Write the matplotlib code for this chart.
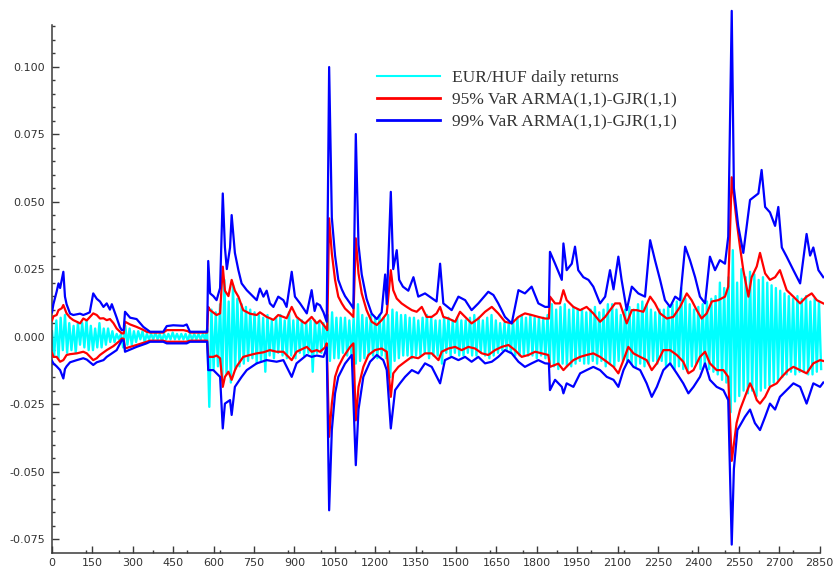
import numpy as np
import matplotlib
matplotlib.use("Agg")
import matplotlib.pyplot as plt
from matplotlib.ticker import MultipleLocator, FixedLocator, FormatStrFormatter
from matplotlib.lines import Line2D

# All series values are stored in units of 1e-3
SCALE = 1e-3

# EUR/HUF daily returns, sampled every RETURN_STEP observations
RETURN_STEP = 8
daily_returns = [
    2, -7, 6, -8, 7, -5, 8, -6, 5,
    -5, 4, -6, 5, -3, 5, -4, 6, -5, 4, -5, 3, -4, 5, -4, 3,
    -3, 3, -2, 2, -2, 1, -1, 1,
    -4, 4, -3, 3, -3,
    2, -2, 2, -1, 2, -2, 1,
    -1, 1, -1, 1.5, -1, 1, -1.5, 1, -1, 1, -1, 1.5, -1, 1, -1, 1, -1, 1, -1.5, 1,
    -1, 1, -1, 1, -1, 1, -1,
    3, -26,
    10, -12, 9, -11, 12, -16, 21, -14, 13, -17, 19, -12, 14, -11, 12, -10, 11, -9,
    10, -8, 9, -10, 8, -9, 7, -13,
    8, -7, 6, -8, 7, -6, 8, -7, 6, -8, 9, -7, 6, -8, 7, -6, 6, -7, 5,
    -6, 6, -13, 6, -6, 5, -6, 5, -5,
    8, -9, 9, -8, 7, -8, 7, -6, 7, -7, 6, -7, 7,
    -10, 12, -9, 8, -8, 7, -7, 8, -7, 7,
    -8, 8, -7, 7, -8, 8, -15, 10, -9, 9,
    -8, 8, -7, 8, -7, 7, -8, 7, -7, 6,
    -7, 7, -6, 8, -8, 7, -7, 6, -7, 6,
    -10, 7, -6, 7, -7, 6, -6, 7, -7, 6,
    -7, 6, -6, 7, -7, 8, -7, 7, -6, 6,
    -7, 7, -8, 8, -7, 6, -6, 5, -5, 5,
    -5, 5, -6, 6, -7, 7, -7, 8, -7, 7,
    -7, 8, -7, 7, -8, 7, -7, 7, -8, 8,
    -10, 12, -11, 10, -12, 11, -10, 12, -11, 10,
    -11, 11, -10, 10, -9, 10, -10, 9, -10, 10,
    -9, 11, -10, 9, -9, 10, -11, 12, -10, 12,
    -11, 10, -9, 8, -9, 10, -9, 11, -10, 10,
    -11, 12, -10, 13, -11, 12, -10, 10, -9, 9,
    -10, 10, -9, 10, -11, 11, -10, 12, -12, 13,
    -11, 18, -12, 14, -13, 12, -11, 10, -10, 11,
    -12, 12, -11, 13, -12, 14, -13, 15, -14, 20,
    -16, 18, -17, 22, -28, 32, -24, 20, -22, 25,
    -20, 22, -21, 24, -20, 23, -22, 21, -20, 22,
    -19, 20, -18, 19, -17, 18, -16, 17, -15, 16,
    -14, 15, -13, 14, -14, 15, -13, 14, -13, 15,
    -14, 13, -14, 14, -13, 13, -12,
]

# 95% VaR, upper band
var95_upper_days = [
    0, 5, 17, 24, 36, 42, 54, 67, 79, 92, 104, 116, 129, 153, 166, 178, 191, 203,
    215, 228, 240, 259, 266, 271, 290, 314, 339, 351, 364, 413, 426, 488, 505, 512,
    576, 580, 587, 611, 624, 634, 642, 655, 667, 679, 692, 710, 735, 760, 772, 797,
    809, 822, 840, 859, 871, 890, 908, 930, 940, 964, 983, 995, 1014, 1022, 1029,
    1039, 1051, 1063, 1076, 1088, 1107, 1119, 1128, 1138, 1150, 1168, 1187, 1206,
    1224, 1243, 1258, 1267, 1280, 1298, 1317, 1336, 1354, 1373, 1391, 1410, 1428,
    1441, 1453, 1472, 1497, 1515, 1534, 1558, 1583, 1608, 1633, 1657, 1682, 1707,
    1732, 1756, 1781, 1806, 1831, 1845, 1849, 1868, 1886, 1899, 1911, 1936, 1961,
    1985, 2010, 2035, 2054, 2072, 2091, 2109, 2134, 2153, 2171, 2196, 2221, 2239,
    2258, 2283, 2307, 2332, 2357, 2375, 2394, 2412, 2431, 2450, 2474, 2499, 2511,
    2524, 2542, 2555, 2567, 2586, 2598, 2617, 2629, 2648, 2666, 2685, 2703, 2728,
    2753, 2778, 2802, 2821, 2840, 2864,
]
var95_upper = [
    6.0, 7.5, 8.0, 9.8, 10.5, 11.7, 8.6, 7.0, 6.1, 5.5, 4.9, 6.7, 6.0, 8.6, 8.0, 6.7, 6.8, 6.1,
    6.5, 5.0, 3.0, 1.2, 1.2, 5.5, 4.5, 3.6, 2.5, 1.8, 1.5, 1.5, 2.4, 2.4, 2.0, 1.5,
    1.5, 11.0, 9.8, 8.0, 8.6, 25.9, 17.0, 15.0, 21.0, 17.0, 14.8, 9.8, 8.5, 8.0, 9.0, 7.3,
    6.8, 6.2, 8.0, 7.3, 6.8, 11.0, 7.3, 5.5, 4.9, 7.3, 4.9, 6.0, 3.6, 2.4, 43.8,
    30.8, 21.0, 14.8, 12.3, 10.4, 8.6, 7.3, 36.4, 23.4, 16.0, 9.8, 5.5, 4.3,
    6.1, 8.6, 24.6, 17.2, 14.1, 12.3, 11.0, 9.8, 9.2, 11.0, 7.3, 7.3, 8.6,
    11.0, 7.3, 6.7, 5.5, 9.2, 7.3, 4.9, 6.7, 9.2, 11.0, 8.6, 5.5, 4.9,
    7.3, 8.6, 8.0, 7.3, 6.7, 6.7, 14.8, 12.3, 12.3, 17.2, 13.5, 11.0, 9.8,
    11.0, 8.6, 5.5, 7.3, 9.8, 12.3, 12.3, 4.9, 9.8, 9.8, 9.2, 14.8, 12.3,
    8.6, 6.7, 7.3, 11.0, 16.0, 13.5, 9.8, 6.7, 8.6, 13.0, 13.5, 14.8, 18.5,
    59.0, 43.0, 33.0, 24.6, 14.8, 22.0, 26.0, 31.0, 23.4, 21.0, 22.0, 24.6, 17.2,
    14.8, 12.3, 14.8, 16.0, 13.5, 12.3,
]

# 95% VaR, lower band
var95_lower_days = [
    0, 5, 17, 30, 42, 54, 67, 92, 116, 129, 153, 166, 178, 203, 228, 252, 259, 266,
    271, 290, 314, 351, 364, 413, 426, 500, 512, 576, 580, 599, 611, 624, 634, 642,
    655, 667, 679, 686, 710, 735, 760, 785, 809, 834, 859, 890, 908, 946, 964, 983,
    995, 1014, 1020, 1029, 1039, 1051, 1063, 1082, 1107, 1119, 1128, 1138, 1156,
    1175, 1199, 1224, 1243, 1258, 1267, 1286, 1311, 1336, 1360, 1385, 1410, 1435,
    1447, 1472, 1497, 1521, 1546, 1571, 1596, 1620, 1645, 1670, 1695, 1719, 1744,
    1769, 1794, 1818, 1843, 1849, 1880, 1899, 1911, 1936, 1961, 1985, 2010, 2035,
    2060, 2085, 2103, 2122, 2140, 2159, 2184, 2208, 2227, 2246, 2270, 2295, 2320,
    2344, 2363, 2382, 2406, 2425, 2443, 2468, 2493, 2511, 2524, 2542, 2555, 2573,
    2592, 2604, 2617, 2629, 2648, 2666, 2691, 2710, 2734, 2753, 2778, 2802, 2827,
    2852, 2864,
]
var95_lower = [
    -6.0, -7.5, -7.5, -9.3, -8.7, -6.8, -6.5, -6.2, -5.6, -6.2, -8.7, -8.0, -6.8, -5.0, -3.5, -1.5, -0.7, -0.8,
    -4.4, -3.8, -3.1, -1.9, -1.5, -1.5, -1.9, -1.9, -1.5, -1.5, -7.5, -7.5, -7.0, -8.0, -18.6, -14.9,
    -13.0, -16.0, -12.5, -11.0, -7.5, -6.8, -6.2, -5.8, -5.0, -5.6, -5.6, -8.7, -5.6, -3.8, -5.6, -5.0,
    -5.6, -4.0, -2.5, -37.1, -24.8, -14.9, -11.2, -7.5, -3.8, -2.5, -31.0, -18.6, -11.2,
    -6.8, -5.0, -4.4, -5.6, -22.3, -13.6, -11.2, -9.3, -7.5, -8.0, -6.2, -6.2, -8.7,
    -5.6, -4.4, -3.8, -5.0, -3.8, -4.4, -6.2, -6.8, -5.0, -3.8, -3.1, -5.0, -7.5,
    -6.8, -5.6, -6.2, -6.8, -11.2, -10.0, -12.4, -11.1, -8.7, -7.5, -6.8, -6.2, -7.5,
    -9.3, -11.2, -13.6, -8.7, -3.8, -6.2, -7.5, -8.7, -12.4, -9.9, -5.0, -5.0, -6.8,
    -9.3, -13.6, -12.4, -7.5, -5.6, -9.9, -12.4, -12.4, -14.9, -46.0, -32.0, -27.0, -22.3,
    -17.3, -19.8, -23.5, -24.8, -22.3, -18.6, -17.3, -14.9, -12.4, -11.2, -12.4, -13.6, -9.9,
    -8.7, -9.0,
]

# 99% VaR, upper band
var99_upper_days = [
    0, 5, 17, 24, 30, 42, 48, 54, 67, 79, 104, 116, 129, 140, 153, 166, 178, 191,
    203, 215, 222, 240, 252, 259, 266, 271, 290, 314, 339, 364, 413, 426, 450, 488,
    500, 512, 576, 580, 587, 599, 611, 624, 634, 642, 649, 661, 667, 679, 692, 704,
    723, 735, 760, 772, 785, 797, 809, 822, 840, 859, 871, 890, 902, 921, 946, 964,
    975, 983, 995, 1008, 1020, 1029, 1039, 1051, 1063, 1076, 1088, 1107, 1119, 1128,
    1138, 1150, 1168, 1187, 1206, 1224, 1237, 1243, 1258, 1267, 1280, 1289, 1303,
    1323, 1342, 1360, 1385, 1428, 1441, 1453, 1484, 1509, 1534, 1558, 1583, 1620,
    1639, 1657, 1682, 1707, 1732, 1756, 1781, 1806, 1831, 1845, 1849, 1868, 1893,
    1899, 1911, 1930, 1942, 1954, 1973, 1992, 2010, 2035, 2054, 2072, 2085, 2103,
    2115, 2134, 2153, 2177, 2202, 2221, 2239, 2258, 2276, 2295, 2314, 2332, 2351,
    2369, 2388, 2406, 2425, 2443, 2462, 2480, 2499, 2511, 2524, 2532, 2548, 2567,
    2592, 2623, 2635, 2648, 2666, 2685, 2697, 2710, 2728, 2753, 2778, 2802, 2815,
    2827, 2846, 2864,
]
var99_upper = [
    9.0, 12.0, 16.6, 19.7, 18.0, 24.0, 14.8, 12.0, 8.5, 8.0, 8.5, 8.0, 8.5, 9.0, 16.0, 14.0, 13.0, 11.0,
    12.3, 10.0, 12.0, 7.0, 3.5, 2.4, 2.5, 9.2, 7.0, 6.5, 3.6, 1.8, 1.8, 3.9, 4.2, 4.0,
    4.5, 1.8, 1.8, 28.0, 16.0, 15.0, 13.5, 18.0, 53.0, 33.0, 25.0, 33.0, 45.0, 31.0, 24.6, 19.7,
    17.2, 16.0, 13.5, 17.8, 14.8, 17.0, 12.3, 11.0, 14.8, 13.5, 11.0, 24.0, 14.8, 12.3, 8.6, 17.2,
    9.5, 12.3, 11.6, 9.0, 5.5, 99.8, 44.0, 30.0, 21.0, 17.5, 15.0, 12.3, 10.5, 75.0,
    34.0, 23.0, 14.0, 8.5, 6.5, 9.0, 23.0, 12.0, 53.6, 25.0, 32.0, 21.0, 18.5,
    17.0, 22.0, 14.8, 16.0, 13.0, 27.0, 12.3, 9.8, 14.8, 13.5, 9.8, 12.3, 16.6,
    15.4, 12.3, 7.3, 4.9, 17.2, 16.0, 18.5, 12.3, 11.0, 11.0, 31.4, 27.0, 21.0,
    34.5, 24.6, 27.0, 33.3, 24.6, 22.0, 21.0, 18.5, 12.3, 14.8, 24.6, 17.5, 29.6,
    21.0, 9.8, 18.5, 16.0, 14.8, 35.7, 28.3, 21.0, 13.5, 11.0, 14.8, 13.5, 33.3,
    28.3, 22.0, 14.8, 12.3, 29.6, 24.6, 28.3, 27.0, 37.0, 120.6, 55.0, 41.0, 31.0,
    50.6, 53.0, 61.7, 48.0, 46.0, 41.0, 48.0, 33.0, 29.6, 24.6, 19.7, 38.0, 30.0,
    33.0, 24.6, 22.0,
]

# 99% VaR, lower band
var99_lower_days = [
    0, 5, 17, 30, 42, 48, 54, 67, 92, 116, 129, 153, 166, 191, 203, 240, 259, 266,
    271, 290, 314, 351, 364, 413, 426, 500, 512, 576, 580, 599, 624, 634, 642, 661,
    667, 679, 704, 723, 760, 797, 834, 859, 890, 908, 946, 964, 983, 1008, 1020,
    1029, 1039, 1051, 1063, 1088, 1113, 1128, 1138, 1156, 1181, 1206, 1230, 1243,
    1258, 1274, 1292, 1311, 1336, 1360, 1385, 1410, 1441, 1459, 1484, 1509, 1534,
    1558, 1583, 1608, 1633, 1657, 1682, 1707, 1732, 1756, 1781, 1806, 1831, 1845,
    1849, 1868, 1893, 1899, 1911, 1936, 1961, 1985, 2010, 2035, 2060, 2085, 2103,
    2122, 2140, 2159, 2184, 2208, 2227, 2246, 2270, 2295, 2320, 2344, 2363, 2382,
    2406, 2425, 2443, 2468, 2493, 2511, 2524, 2532, 2545, 2573, 2592, 2610, 2629,
    2648, 2666, 2685, 2703, 2728, 2753, 2778, 2802, 2827, 2852, 2864,
]
var99_lower = [
    -9.0, -9.9, -11.0, -12.4, -15.5, -12.0, -11.0, -9.5, -8.7, -8.0, -8.5, -10.5, -9.5, -8.7, -7.5, -5.0, -1.3, -1.5,
    -5.6, -4.8, -3.8, -2.5, -1.9, -1.9, -2.5, -2.5, -1.9, -1.9, -12.4, -12.4, -14.9, -34.0, -24.8, -23.5,
    -29.0, -18.6, -14.9, -12.4, -9.9, -8.7, -9.3, -8.7, -14.9, -9.9, -6.8, -7.5, -7.0, -7.5, -4.0,
    -64.3, -34.6, -21.0, -14.9, -10.0, -6.8, -47.6, -27.0, -14.9, -9.3, -6.8, -8.7, -12.4,
    -34.0, -19.8, -17.3, -14.9, -12.4, -13.6, -9.9, -11.2, -17.3, -8.7, -7.5, -8.7, -7.5,
    -9.3, -7.5, -9.9, -9.3, -7.5, -5.0, -6.2, -9.3, -11.2, -9.9, -8.7, -9.9, -10.0,
    -19.8, -16.0, -18.6, -21.0, -17.3, -18.6, -13.6, -12.4, -11.2, -12.4, -14.9, -16.0, -18.6,
    -12.4, -8.7, -11.2, -12.4, -17.3, -22.3, -18.6, -12.4, -9.9, -13.6, -17.3, -21.0, -18.6,
    -14.9, -9.9, -16.0, -18.6, -19.8, -23.5, -77.0, -49.0, -34.6, -29.7, -27.0, -32.0, -34.6,
    -29.7, -24.8, -27.0, -22.3, -19.8, -17.3, -18.6, -24.8, -17.3, -18.6, -17.0,
]

legend_labels = [
    "EUR/HUF daily returns",
    "95% VaR ARMA(1,1)-GJR(1,1)",
    "99% VaR ARMA(1,1)-GJR(1,1)",
]
x_tick_step = 150
x_minor_step = 125
y_tick_step = 0.025
y_minor_step = 0.005

C_RET = "#00FFFF"
C_95 = "#FF0000"
C_99 = "#0000FF"
AXIS_C = "#3a3a3a"

fig = plt.figure(figsize=(8.34, 5.74), dpi=100)
ax = fig.add_axes([0.0624, 0.0371, 0.9254, 0.9482])

ret = np.asarray(daily_returns, dtype=float) * SCALE
ret_x = np.arange(len(ret)) * RETURN_STEP
ax.plot(ret_x, ret, color=C_RET, lw=1.7, zorder=2)

for days, vals, col in [
    (var95_upper_days, var95_upper, C_95),
    (var95_lower_days, var95_lower, C_95),
    (var99_upper_days, var99_upper, C_99),
    (var99_lower_days, var99_lower, C_99),
]:
    ax.plot(days, np.asarray(vals) * SCALE, color=col, lw=1.6, zorder=3)

ax.set_xlim(0, 2866)
ax.set_ylim(-0.080, 0.1215)

for s in ("top", "right"):
    ax.spines[s].set_visible(False)
for s in ("left", "bottom"):
    ax.spines[s].set_color(AXIS_C)
    ax.spines[s].set_linewidth(1.1)
ax.spines["left"].set_bounds(-0.080, 0.1153)
ax.spines["bottom"].set_bounds(0, 2852)

ax.xaxis.set_major_locator(MultipleLocator(x_tick_step))
ax.xaxis.set_minor_locator(MultipleLocator(x_minor_step))
ax.yaxis.set_major_locator(MultipleLocator(y_tick_step))
ax.yaxis.set_minor_locator(FixedLocator(np.arange(-0.075, 0.1151, y_minor_step)))
ax.yaxis.set_major_formatter(FormatStrFormatter("%.3f"))

ax.tick_params(which="both", direction="in", color=AXIS_C, width=1.0,
               labelsize=8, labelcolor="#333333")
ax.tick_params(which="major", length=5)
ax.tick_params(which="minor", length=2.5)
ax.tick_params(axis="y", pad=5)
ax.tick_params(axis="x", pad=4)

handles = [Line2D([], [], color=C_RET, lw=1.5),
           Line2D([], [], color=C_95, lw=2.0),
           Line2D([], [], color=C_99, lw=2.0)]
ax.legend(handles, legend_labels, loc="upper left",
          bbox_to_anchor=(377 / 834, 1 - 70 / 574), bbox_transform=fig.transFigure,
          frameon=False, prop={"family": "Liberation Serif", "size": 12.5},
          labelcolor="#333333",
          handlelength=3.6, handletextpad=0.7, labelspacing=0.33,
          borderpad=0, borderaxespad=0)

fig.savefig("out.png", dpi=100)
